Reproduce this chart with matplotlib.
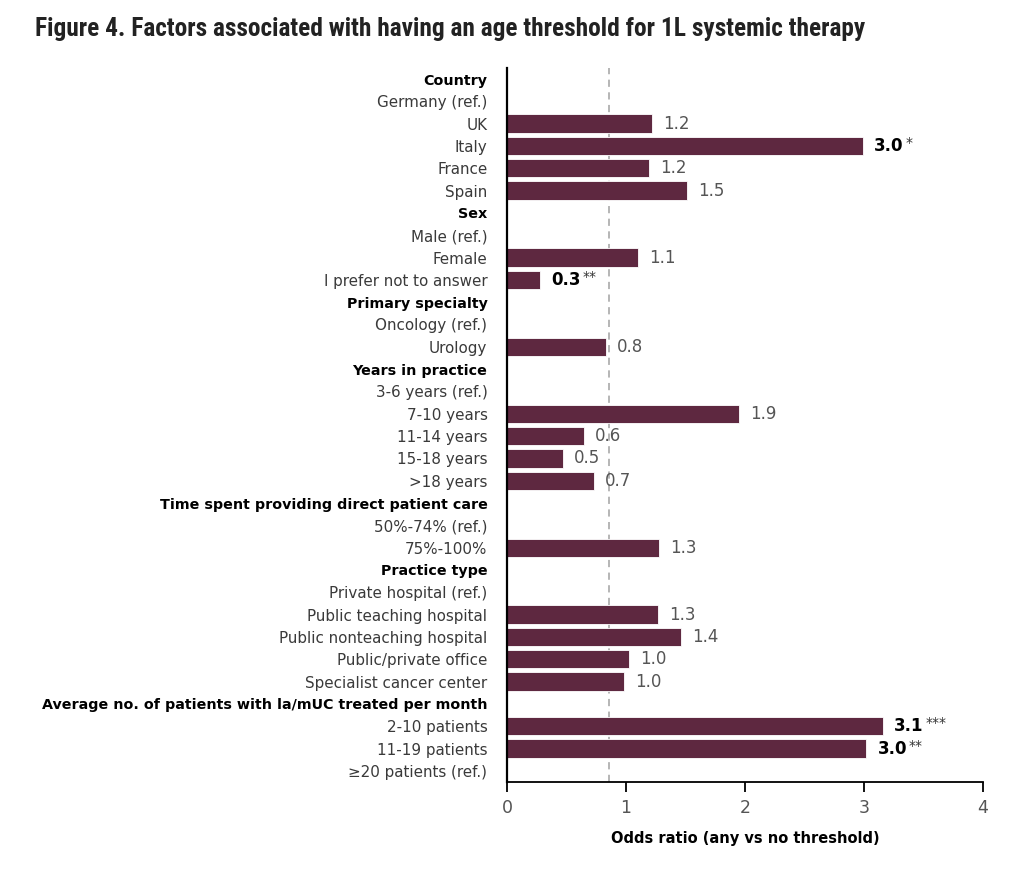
import matplotlib.pyplot as plt

# rows top to bottom; headers have no value, reference rows have no bar
labels = ["Country", "Germany (ref.)", "UK", "Italy", "France", "Spain",
          "Sex", "Male (ref.)", "Female", "I prefer not to answer",
          "Primary specialty", "Oncology (ref.)", "Urology",
          "Years in practice", "3-6 years (ref.)", "7-10 years", "11-14 years", "15-18 years", ">18 years",
          "Time spent providing direct patient care", "50%-74% (ref.)", "75%-100%",
          "Practice type", "Private hospital (ref.)", "Public teaching hospital",
          "Public nonteaching hospital", "Public/private office", "Specialist cancer center",
          "Average no. of patients with la/mUC treated per month", "2-10 patients", "11-19 patients",
          "\u226520 patients (ref.)"]
headers = ["Country", "Sex", "Primary specialty", "Years in practice",
           "Time spent providing direct patient care", "Practice type",
           "Average no. of patients with la/mUC treated per month"]

odds = [None, None, 1.22, 2.99, 1.19, 1.51,
        None, None, 1.10, 0.28,
        None, None, 0.83,
        None, None, 1.95, 0.65, 0.47, 0.73,
        None, None, 1.28,
        None, None, 1.27, 1.46, 1.03, 0.98,
        None, 3.16, 3.02,
        None]
value_text = [None, None, "1.2", "3.0", "1.2", "1.5",
              None, None, "1.1", "0.3",
              None, None, "0.8",
              None, None, "1.9", "0.6", "0.5", "0.7",
              None, None, "1.3",
              None, None, "1.3", "1.4", "1.0", "1.0",
              None, "3.1", "3.0",
              None]
stars = {3: "*", 9: "**", 29: "***", 30: "**"}
ref_line = 0.86

bar_color = "#5e2840"
font = "DejaVu Sans"
title_font = ["Roboto Condensed", "Liberation Sans Narrow", "DejaVu Sans Condensed", "Roboto", "DejaVu Sans"]

fig = plt.figure(figsize=(10.24, 8.72), dpi=100)
ax = fig.add_axes([0.495, 0.1032, 0.465, 0.819])

n = len(labels)
ys = list(range(n))
for y, v in zip(ys, odds):
    if v is not None:
        ax.barh(y, v, height=0.82, color=bar_color, edgecolor="white", linewidth=0.6, zorder=2)

ax.axvline(ref_line, color="#b0b0b0", linestyle=(0, (4, 3)), linewidth=1.3, zorder=1)

ax.set_xlim(0, 4)
ax.set_ylim(n - 0.5, -0.5)
ax.set_xticks([0, 1, 2, 3, 4])
ax.set_xticklabels(["0", "1", "2", "3", "4"], fontsize=12.5, color="#555555", family=font)
ax.tick_params(axis="x", direction="out", length=7, width=1.3, pad=5)
ax.set_yticks(ys)
ax.set_yticklabels(labels, family=font)
ax.tick_params(axis="y", length=0, pad=14)
for t in ax.get_yticklabels():
    if t.get_text() in headers:
        t.set_fontweight("bold")
        t.set_color("black")
        t.set_fontsize(10.3)
    else:
        t.set_color("#3a3a3a")
        t.set_fontsize(10.9)

for s in ["top", "right"]:
    ax.spines[s].set_visible(False)
ax.spines["left"].set_linewidth(1.6)
ax.spines["bottom"].set_linewidth(1.3)

ax.set_xlabel("Odds ratio (any vs no threshold)", fontsize=10.5, fontweight="bold",
              family=font, labelpad=10)

fig.canvas.draw()
renderer = fig.canvas.get_renderer()
for i, (v, txt) in enumerate(zip(odds, value_text)):
    if v is None:
        continue
    sig = i in stars
    t = ax.annotate(txt, (v, i), xytext=(8, 0), textcoords="offset points",
                    va="center", ha="left", fontsize=12,
                    fontweight="bold" if sig else "normal",
                    color="black" if sig else "#555555", family=font)
    if sig:
        bb = t.get_window_extent(renderer=renderer)
        x_disp = bb.x1 + 2
        y_disp = (bb.y0 + bb.y1) / 2 + 3
        fig.text(x_disp / fig.dpi / fig.get_figwidth(), y_disp / fig.dpi / fig.get_figheight(),
                 stars[i], fontsize=10, color="#333333", ha="left", va="center", family=font)

fig.text(0.034, 0.967, "Figure 4. Factors associated with having an age threshold for 1L systemic therapy",
         fontsize=18.3, fontweight="bold", color="#222222", ha="left", va="center",
         family=title_font, fontstretch="condensed")

fig.savefig("out.png", dpi=100)
